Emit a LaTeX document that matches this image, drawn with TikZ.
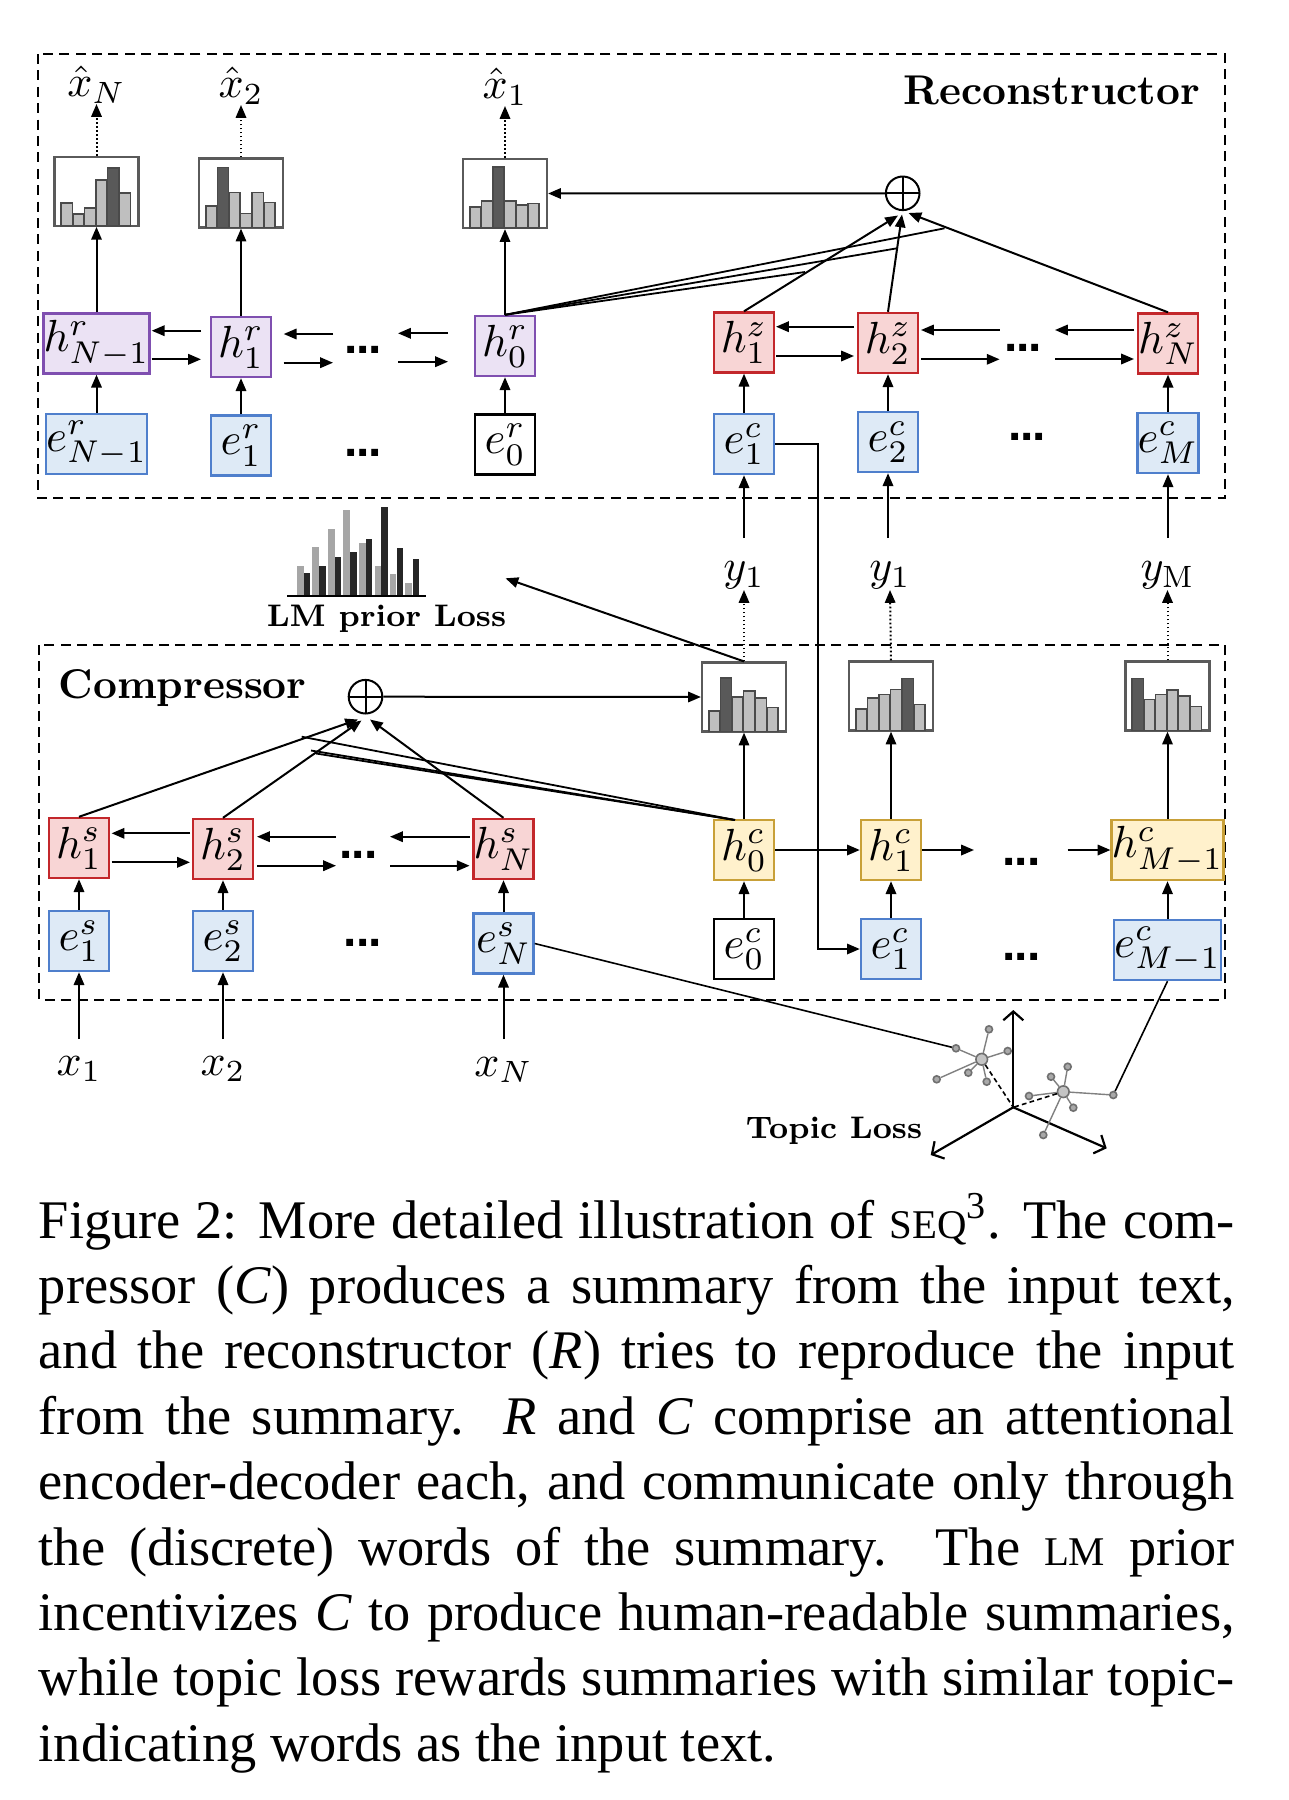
\RequirePackage{fix-cm}
\documentclass[tikz,border=0pt]{standalone}
\usepackage{fontspec}
\usetikzlibrary{arrows.meta,calc}
\newfontfamily\capfont{Liberation Serif}
\newfontfamily\lsans{Liberation Sans}
\definecolor{purpF}{HTML}{EBE2F4}
\definecolor{purpD}{HTML}{7F4FB0}
\definecolor{blueF}{HTML}{DEEAF6}
\definecolor{blueD}{HTML}{4F7FCC}
\definecolor{redF}{HTML}{F8D5D5}
\definecolor{redD}{HTML}{C3272B}
\definecolor{yelF}{HTML}{FFF1CC}
\definecolor{yelD}{HTML}{C8A038}
\definecolor{histD}{HTML}{5A5A5A}
\definecolor{barL}{HTML}{BFBFBF}
\definecolor{barD}{HTML}{595959}
\definecolor{barE}{HTML}{4A4A4A}
\definecolor{lmL}{HTML}{A6A6A6}
\definecolor{lmD}{HTML}{262626}
\definecolor{satF}{HTML}{A9A9A9}
\definecolor{satD}{HTML}{707070}
\definecolor{ctrF}{HTML}{C4C4C4}
\definecolor{edgeG}{HTML}{808080}
\newcommand\blfont{\fontsize{11.25pt}{12pt}\selectfont}
\newcommand\lbfont{\fontsize{11pt}{12pt}\selectfont}
\newcommand\ttlfont{\fontsize{10.4pt}{12pt}\selectfont\bfseries}
\newcommand\lossfont{\fontsize{7.8pt}{10pt}\selectfont\bfseries}
\newcommand\dtsfont{\fontsize{12pt}{12pt}\selectfont\lsans\bfseries}
\newcommand\mydots{.\kern-0.3pt.\kern-0.3pt.}
\newcommand\capsz{\capfont\fontsize{13.6pt}{16pt}\selectfont}
\newcommand\fakesc[1]{{\fontsize{10.2pt}{10pt}\selectfont #1}}
\newcommand\histo[5]{%
  \node[histbox] (#1) at (#2,#3) {};
  \foreach \hh [count=\i] in {#4} {%
    \pgfmathsetmacro\xl{7.8+11.6*(\i-1)}%
    \ifnum\i=#5\relax\def\bc{barD}\else\def\bc{barL}\fi
    \draw[line width=0.4pt, draw=barE, fill=\bc] ($(#1.south west)+(\xl,-1)$) rectangle ++(11.2,-\hh);
  }%
}
\begin{document}
\begin{tikzpicture}[x=0.25pt,y=-0.25pt,
  bx/.style={draw, line width=0.6pt, minimum width=15pt, minimum height=15pt, inner sep=0pt, font=\blfont},
  wide/.style={minimum width=24pt},
  hrs/.style={bx, fill=purpF, draw=purpD},
  ebs/.style={bx, fill=blueF, draw=blueD},
  ews/.style={bx, fill=white, draw=black},
  rds/.style={bx, fill=redF, draw=redD},
  yls/.style={bx, fill=yelF, draw=yelD},
  histbox/.style={draw=histD, line width=0.55pt, fill=white, minimum width=21pt, minimum height=17.25pt, inner sep=0pt},
  arr/.style={line width=0.5pt, -{Triangle[length=3.2pt,width=2.6pt]}},
  dotarr/.style={arr, dash pattern=on 0.45pt off 0.55pt},
  att/.style={line width=0.45pt},
  dbox/.style={line width=0.5pt, dash pattern=on 2.5pt off 1.6pt},
  oplus/.style={circle, draw, line width=0.5pt, minimum size=8.4pt, inner sep=0pt, fill=white,
    path picture={\draw[line width=0.5pt] (path picture bounding box.north) -- (path picture bounding box.south) (path picture bounding box.west) -- (path picture bounding box.east);}},
  lbl/.style={font=\lbfont, inner sep=0pt},
  dts/.style={font=\dtsfont, inner sep=0pt},
  sat/.style={circle, draw=satD, fill=satF, line width=0.4pt, minimum size=1.75pt, inner sep=0pt},
  ctr/.style={circle, draw=satD, fill=ctrF, line width=0.4pt, minimum size=2.9pt, inner sep=0pt},
  tedge/.style={draw=edgeG, line width=0.35pt},
  tdash/.style={line width=0.4pt, dash pattern=on 1.2pt off 0.8pt},
  thinb/.style={line width=0.4pt},
  axis/.style={line width=0.55pt, -{Straight Barb[length=2.2pt,width=5pt]}},
  capn/.style={anchor=base west, inner sep=0pt, font=\capsz}]
\useasboundingbox[fill=white] (0,0) rectangle (1288,1800);

% dashed frames
\draw[dbox] (38,54) rectangle (1225,498);
\draw[dbox] (39,645) rectangle (1225,1000);

% titles
\node[anchor=base east, inner sep=0pt, font=\ttlfont] (rtitle) at (1201,104) {Reconstructor};
\node[anchor=base west, inner sep=0pt, font=\ttlfont] (ctitle) at (57.8,698) {Compressor};
\node[anchor=base west, inner sep=0pt, font=\lossfont] (lmtext) at (266,626.7) {LM prior Loss};
\node[anchor=base west, inner sep=0pt, font=\lossfont] (toptext) at (745,1138) {Topic Loss};

% ---------- Reconstructor ----------
\node[hrs, wide] (hrN) at (96.5,343.5) {$h^r_{N-1}$};
\node[hrs] (hr1) at (241,347) {$h^r_1$};
\node[hrs] (hr0) at (505,346) {$h^r_0$};
\node[ebs, wide] (erN) at (96.5,444) {$e^r_{N-1}$};
\node[ebs] (er1) at (241,445.5) {$e^r_1$};
\node[ews] (er0) at (505,444.5) {$e^r_0$};
\node[rds] (hz1) at (744,342.5) {$h^z_1$};
\node[rds] (hz2) at (888,343) {$h^z_2$};
\node[rds] (hzN) at (1168,343.5) {$h^z_N$};
\node[ebs] (rc1) at (744,444) {$e^c_1$};
\node[ebs] (rc2) at (888,442) {$e^c_2$};
\node[ebs] (rcM) at (1168,443) {$e^c_M$};

\histo{hR1}{96.5}{191.3}{22.7,11.7,17.7,45.7,57.7,33}{5}
\histo{hR2}{241}{193}{21.7,60.3,35.3,14,35.3,25.3}{2}
\histo{hR3}{505}{193.5}{21,27.3,61,27.3,23.3,24.7}{3}

\node[lbl, anchor=south] (xhN) at (96.5,104) {$\hat{x}_N$};
\node[lbl, anchor=south] (xh2) at (241,105) {$\hat{x}_2$};
\node[lbl, anchor=south] (xh1) at (505,106) {$\hat{x}_1$};
\draw[dotarr] (hR1.north) -- (xhN.south);
\draw[dotarr] (hR2.north) -- (xh2.south);
\draw[dotarr] (hR3.north) -- (xh1.south);

\draw[arr] (hrN.north) -- (hR1.south);
\draw[arr] (hr1.north) -- (hR2.south);
\draw[arr] (hr0.north) -- (hR3.south);
\draw[arr] (erN.north) -- (hrN.south);
\draw[arr] (er1.north) -- (hr1.south);
\draw[arr] (er0.north) -- (hr0.south);
\draw[arr] (rc1.north) -- (hz1.south);
\draw[arr] (rc2.north) -- (hz2.south);
\draw[arr] (rcM.north) -- (hzN.south);

\node[dts] (dR1) at (363,350) {\mydots};
\node[dts] (dR2) at (363,453) {\mydots};
\node[dts] (dR3) at (1023,348) {\mydots};
\node[dts] (dR4) at (1027,437) {\mydots};

% bidirectional arrows (reconstructor)
\draw[arr] (201,330.7) -- (151.7,330.7);  \draw[arr] (151.7,359.3) -- (201,359.3);
\draw[arr] (333,334) -- (283.7,334);      \draw[arr] (283.7,362.7) -- (333,362.7);
\draw[arr] (448,333.3) -- (398,333.3);    \draw[arr] (398,361.7) -- (448,361.7);
\draw[arr] (854,326.7) -- (776,326.7);    \draw[arr] (776,356) -- (854,356);
\draw[arr] (999.6,330) -- (921,330);      \draw[arr] (921,359.3) -- (999.6,359.3);
\draw[arr] (1134,330) -- (1055,330);      \draw[arr] (1055,359) -- (1134,359);

% attention reconstructor
\node[oplus] (circR) at (902.7,193.3) {};
\coordinate (tz1) at (898,215.5);
\coordinate (tz2) at (902,214.5);
\coordinate (tzN) at (908.5,213);
\draw[arr] (hz1.north) -- (tz1);
\draw[arr] (hz2.north) -- (tz2);
\draw[arr] (hzN.north) -- (tzN);
\coordinate (aR1) at (805,272);
\coordinate (aR2) at (897,248.3);
\coordinate (aR3) at (944.5,228.3);
\draw[att] (hr0.north) -- (aR1);
\draw[att] (hr0.north) -- (aR2);
\draw[att] (hr0.north) -- (aR3);
\draw[arr] (circR.west) -- (hR3.east);

% ---------- Compressor ----------
\node[rds] (hs1) at (79,848) {$h^s_1$};
\node[rds] (hs2) at (223,849) {$h^s_2$};
\node[rds] (hsN) at (503.5,849) {$h^s_N$};
\node[ebs] (es1) at (79,941) {$e^s_1$};
\node[ebs] (es2) at (223,941) {$e^s_2$};
\node[ebs] (esN) at (503.5,943.5) {$e^s_N$};
\node[yls] (hc0) at (744,850) {$h^c_0$};
\node[yls] (hc1) at (891,850) {$h^c_1$};
\node[yls, wide] (hcM) at (1167.5,850) {$h^c_{M-1}$};
\node[ews] (ec0) at (744,949) {$e^c_0$};
\node[ebs] (ec1) at (891,949) {$e^c_1$};
\node[ebs, wide] (ecM) at (1167.5,950) {$e^c_{M-1}$};

\histo{hC0}{744}{697}{20.9,53.5,34.8,40.4,33.5,24.3}{2}
\histo{hC1}{891}{696}{21.7,32.6,36,41.3,52.2,26}{5}
\histo{hCM}{1167.5}{696}{52.2,31.3,36,40.4,34.8,24.3}{1}

\draw[arr] (hc0.north) -- (hC0.south);
\draw[arr] (hc1.north) -- (hC1.south);
\draw[arr] (hcM.north) -- (hCM.south);
\draw[arr] (es1.north) -- (hs1.south);
\draw[arr] (es2.north) -- (hs2.south);
\draw[arr] (esN.north) -- (hsN.south);
\draw[arr] (ec0.north) -- (hc0.south);
\draw[arr] (ec1.north) -- (hc1.south);
\draw[arr] (ecM.north) -- (hcM.south);

\node[dts] (dC1) at (358.6,855) {\mydots};
\node[dts] (dC2) at (362.7,943) {\mydots};
\node[dts] (dC3) at (1021.6,861.7) {\mydots};
\node[dts] (dC4) at (1021.6,957) {\mydots};

\draw[arr] (190,833.3) -- (111.6,833.3);  \draw[arr] (111.6,862.3) -- (190,862.3);
\draw[arr] (336,836.7) -- (257,836.7);    \draw[arr] (257,865.7) -- (336,865.7);
\draw[arr] (469.6,836.7) -- (390,836.7);  \draw[arr] (390,865.7) -- (469.6,865.7);

\draw[arr] (hc0.east) -- (hc1.west);
\coordinate (hcA) at (974,850);
\coordinate (hcB) at (1067.6,850);
\draw[arr] (hc1.east) -- (hcA);
\draw[arr] (hcB) -- (hcM.west);

% attention compressor
\node[oplus] (circC) at (365.5,696.7) {};
\coordinate (ts1) at (358,719.5);
\coordinate (ts2) at (361.5,720.5);
\coordinate (tsN) at (370,719.5);
\draw[arr] (hs1.north) -- (ts1);
\draw[arr] (hs2.north) -- (ts2);
\draw[arr] (hsN.north) -- (tsN);
\coordinate (aC0) at (735,820);
\coordinate (aC1) at (301.7,736.7);
\coordinate (aC2) at (311,750.5);
\coordinate (aC3) at (316,753.5);
\draw[att] (aC0) -- (aC1);
\draw[att] (aC0) -- (aC2);
\draw[att] (aC0) -- (aC3);
\draw[arr] (circC.east) -- (hC0.west);

% summary words
\node[lbl, anchor=south] (y1) at (744,590) {$y_1$};
\node[lbl, anchor=south] (y1b) at (890,590) {$y_1$};
\node[lbl, anchor=south] (yM) at (1167.5,590) {$y_{\mathrm{M}}$};
\draw[dotarr] (hC0.north) -- (y1.south);
\draw[dotarr] (hC1.north) -- (y1b.south);
\draw[dotarr] (hCM.north) -- (yM.south);
\coordinate (yt1) at (744,538);
\coordinate (yt2) at (888,538);
\coordinate (yt3) at (1168,538);
\draw[arr] (yt1) -- (rc1.south);
\draw[arr] (yt2) -- (rc2.south);
\draw[arr] (yt3) -- (rcM.south);

% feed of e^c_1
\draw[arr] (rc1.east) -- ++(42.5,0) |- (ec1.west);

% inputs
\node[lbl, anchor=base] (xl1) at (79,1075) {$x_1$};
\node[lbl, anchor=base] (xl2) at (223,1075) {$x_2$};
\node[lbl, anchor=base] (xlN) at (503.5,1076) {$x_N$};
\coordinate (xb1) at (79,1039);
\coordinate (xb2) at (223,1039);
\coordinate (xb3) at (503.5,1039);
\draw[arr] (xb1) -- (es1.south);
\draw[arr] (xb2) -- (es2.south);
\draw[arr] (xb3) -- (esN.south);

% LM prior histogram
\foreach \xa/\ta/\xb/\tb in {297.3/566/304/572.7, 312.3/546.7/319.3/565.7, 328.3/529.3/335/557.3, 343.3/510/350.3/552, 359.3/543.3/366/539.3, 374.7/565.7/381.3/507.3, 390/574/397/548.3, 405.3/582.7/412.7/559.3} {
  \fill[lmL] (\xa,595) rectangle ++(6.3,\ta-595);
  \fill[lmD] (\xb,595) rectangle ++(6.3,\tb-595);
}
\draw[line width=0.55pt] (287.3,595.7) -- (426,595.7);
\coordinate (lmTip) at (505.5,578.3);
\draw[arr] (hC0.north) -- (lmTip);

% topic loss
\coordinate (ax) at (1013.3,1107.3);
\coordinate (axU) at (1013.3,1010);
\coordinate (axL) at (930.7,1155);
\coordinate (axR) at (1106.7,1148.3);
\draw[axis] (ax) -- (axU);
\draw[axis] (ax) -- (axL);
\draw[axis] (ax) -- (axR);
\node[ctr] (c1) at (981.7,1059.3) {};
\node[sat] (s1a) at (989,1029.3) {};
\node[sat] (s1b) at (1007.7,1051) {};
\node[sat] (s1c) at (956,1048.3) {};
\node[sat] (s1d) at (936.7,1079.3) {};
\node[sat] (s1e) at (968.3,1072.7) {};
\node[sat] (s1f) at (986.7,1081.7) {};
\node[ctr] (c2) at (1063.3,1091.7) {};
\node[sat] (s2a) at (1067.7,1066.7) {};
\node[sat] (s2b) at (1051,1076.7) {};
\node[sat] (s2c) at (1029,1096) {};
\node[sat] (s2d) at (1113.3,1095) {};
\node[sat] (s2e) at (1073.3,1107.7) {};
\node[sat] (s2f) at (1043.3,1135) {};
\foreach \s in {a,b,c,d,e,f} {
  \draw[tedge] (c1) -- (s1\s);
  \draw[tedge] (c2) -- (s2\s);
}
\draw[tdash] (c1) -- (ax);
\draw[tdash] (c2) -- (ax);
\draw[thinb] (esN.east) -- (s1c);
\draw[thinb] (ecM.south) -- (s2d);

% caption
\node[capn] (cap1) at (38,1238) {\makebox[299pt][s]{Figure 2: More detailed illustration of \fakesc{SEQ}\textsuperscript{3}. The com-}};
\node[capn] (cap2) at (38,1303.4) {\makebox[299pt][s]{pressor (\textit{C}\/) produces a summary from the input text,}};
\node[capn] (cap3) at (38,1368.8) {\makebox[299pt][s]{and the reconstructor (\textit{R}\/) tries to reproduce the input}};
\node[capn] (cap4) at (38,1434.2) {\makebox[299pt][s]{from the summary. \textit{R} and \textit{C} comprise an attentional}};
\node[capn] (cap5) at (38,1499.6) {\makebox[299pt][s]{encoder-decoder each, and communicate only through}};
\node[capn] (cap6) at (38,1565) {\makebox[299pt][s]{the (discrete) words of the summary. The \fakesc{LM} prior}};
\node[capn] (cap7) at (38,1630.4) {\makebox[299pt][s]{incentivizes \textit{C} to produce human-readable summaries,}};
\node[capn] (cap8) at (38,1695.8) {\makebox[299pt][s]{while topic loss rewards summaries with similar topic-}};
\node[capn] (cap9) at (38,1761.2) {indicating words as the input text.};
\end{tikzpicture}
\end{document}
